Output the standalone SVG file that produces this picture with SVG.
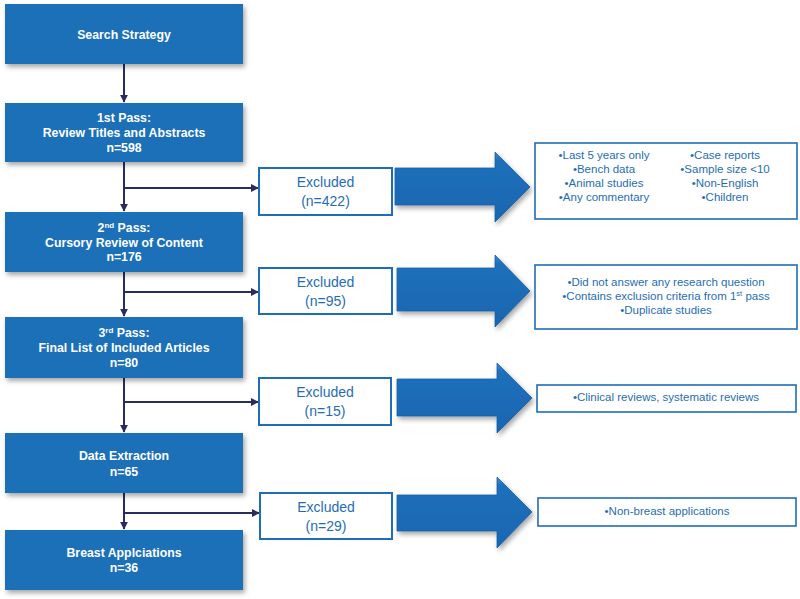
<svg xmlns="http://www.w3.org/2000/svg" width="800" height="599" viewBox="0 0 800 599">
<defs>
<filter id="sh" x="-10%" y="-20%" width="125%" height="150%">
<feDropShadow dx="2" dy="3" stdDeviation="2.5" flood-color="#000" flood-opacity="0.35"/>
</filter>
<linearGradient id="ag" x1="0" y1="0" x2="0" y2="1">
<stop offset="0" stop-color="#3d8ad0"/>
<stop offset="0.12" stop-color="#1f70bb"/>
<stop offset="1" stop-color="#1866b0"/>
</linearGradient>
<marker id="ah" viewBox="0 0 10 10" refX="9" refY="5" markerWidth="4" markerHeight="4" orient="auto" markerUnits="strokeWidth">
<path d="M0,0 L10,5 L0,10 z" fill="#2b2c5e"/>
</marker>
</defs>
<style>
.box{fill:#1d6fb8;filter:url(#sh)}
.bt{font-family:"Liberation Sans",Arial,sans-serif;font-size:12.3px;font-weight:bold;fill:#fff;text-anchor:middle}
.ex{fill:#fff;stroke:#1f6db6;stroke-width:2}
.et{font-family:"Liberation Sans",Arial,sans-serif;font-size:14px;fill:#1f6db6;text-anchor:middle}
.cb{fill:#fff;stroke:#1f6db6;stroke-width:1.6}
.ct{font-family:"Liberation Sans",Arial,sans-serif;font-size:11.5px;fill:#1f6db6;text-anchor:middle}
.bigarrow{fill:url(#ag);stroke:#1a62a8;stroke-width:0.8;filter:url(#sh)}
.cn{stroke:#2b2c5e;stroke-width:2;fill:none}
</style>

<g id="connectors">
<line class="cn" x1="124" y1="64" x2="124" y2="102" marker-end="url(#ah)"/>
<line class="cn" x1="124" y1="162" x2="124" y2="211" marker-end="url(#ah)"/>
<line class="cn" x1="124" y1="188" x2="258" y2="188" marker-end="url(#ah)"/>
<line class="cn" x1="124" y1="272" x2="124" y2="316" marker-end="url(#ah)"/>
<line class="cn" x1="124" y1="292" x2="258" y2="292" marker-end="url(#ah)"/>
<line class="cn" x1="124" y1="378" x2="124" y2="432" marker-end="url(#ah)"/>
<line class="cn" x1="124" y1="402" x2="258" y2="402" marker-end="url(#ah)"/>
<line class="cn" x1="124" y1="493" x2="124" y2="529" marker-end="url(#ah)"/>
<line class="cn" x1="124" y1="513" x2="259" y2="513" marker-end="url(#ah)"/>
</g>

<g id="search-strategy">
<rect class="box" x="5" y="4" width="238" height="60"/>
<text class="bt" x="124" y="39">Search Strategy</text>
</g>

<g id="first-pass">
<rect class="box" x="5" y="103" width="238" height="59"/>
<text class="bt" x="124" y="122">1st Pass:</text>
<text class="bt" x="124" y="137">Review Titles and Abstracts</text>
<text class="bt" x="124" y="152">n=598</text>
</g>

<g id="second-pass">
<rect class="box" x="5" y="212" width="238" height="60"/>
<text class="bt" x="124" y="232">2<tspan font-size="8" dy="-4">nd</tspan><tspan dy="4"> Pass:</tspan></text>
<text class="bt" x="124" y="247">Cursory Review of Content</text>
<text class="bt" x="124" y="261">n=176</text>
</g>

<g id="third-pass">
<rect class="box" x="5" y="317" width="238" height="61"/>
<text class="bt" x="124" y="337">3<tspan font-size="8" dy="-4">rd</tspan><tspan dy="4"> Pass:</tspan></text>
<text class="bt" x="124" y="352">Final List of Included Articles</text>
<text class="bt" x="124" y="367">n=80</text>
</g>

<g id="data-extraction">
<rect class="box" x="5" y="433" width="238" height="60"/>
<text class="bt" x="124" y="460">Data Extraction</text>
<text class="bt" x="124" y="476">n=65</text>
</g>

<g id="breast-applications">
<rect class="box" x="5" y="530" width="238" height="60"/>
<text class="bt" x="124" y="557">Breast Applciations</text>
<text class="bt" x="124" y="572">n=36</text>
</g>

<g id="excluded-1">
<rect class="ex" x="259" y="168" width="133" height="47"/>
<text class="et" x="325.5" y="187">Excluded</text>
<text class="et" x="325.5" y="206">(n=422)</text>
</g>
<g id="excluded-2">
<rect class="ex" x="259" y="268" width="133" height="46"/>
<text class="et" x="325.5" y="286.5">Excluded</text>
<text class="et" x="325.5" y="305.5">(n=95)</text>
</g>
<g id="excluded-3">
<rect class="ex" x="259" y="378" width="132" height="47"/>
<text class="et" x="325" y="397">Excluded</text>
<text class="et" x="325" y="416">(n=15)</text>
</g>
<g id="excluded-4">
<rect class="ex" x="260" y="493" width="132" height="46"/>
<text class="et" x="326" y="511.5">Excluded</text>
<text class="et" x="326" y="530.5">(n=29)</text>
</g>

<g id="arrow-1">
<polygon class="bigarrow" points="395,168 495,168 495,152 530,187 495,222 495,205 395,205"/>
</g>
<g id="arrow-2">
<polygon class="bigarrow" points="397,268 495,268 495,255 530,291 495,327 495,311 397,311"/>
</g>
<g id="arrow-3">
<polygon class="bigarrow" points="397,379 497,379 497,363 532,398 497,433 497,416 397,416"/>
</g>
<g id="arrow-4">
<polygon class="bigarrow" points="397,495 497,495 497,477 532,512 497,548 497,531 397,531"/>
</g>

<g id="criteria-1">
<rect class="cb" x="535" y="143" width="262" height="76"/>
<text class="ct" x="604" y="159">•Last 5 years only</text>
<text class="ct" x="604" y="173">•Bench data</text>
<text class="ct" x="604" y="187">•Animal studies</text>
<text class="ct" x="604" y="201">•Any commentary</text>
<text class="ct" x="725" y="159">•Case reports</text>
<text class="ct" x="725" y="173">•Sample size &lt;10</text>
<text class="ct" x="725" y="187">•Non-English</text>
<text class="ct" x="725" y="201">•Children</text>
</g>
<g id="criteria-2">
<rect class="cb" x="535" y="265" width="262" height="64"/>
<text class="ct" x="666" y="286">•Did not answer any research question</text>
<text class="ct" x="666" y="300">•Contains exclusion criteria from 1<tspan font-size="7.5" dy="-4">st</tspan><tspan dy="4"> pass</tspan></text>
<text class="ct" x="666" y="314">•Duplicate studies</text>
</g>
<g id="criteria-3">
<rect class="cb" x="537" y="385" width="259" height="27"/>
<text class="ct" x="666" y="401">•Clinical reviews, systematic reviews</text>
</g>
<g id="criteria-4">
<rect class="cb" x="538" y="498" width="258" height="28"/>
<text class="ct" x="667" y="515">•Non-breast applications</text>
</g>
</svg>
